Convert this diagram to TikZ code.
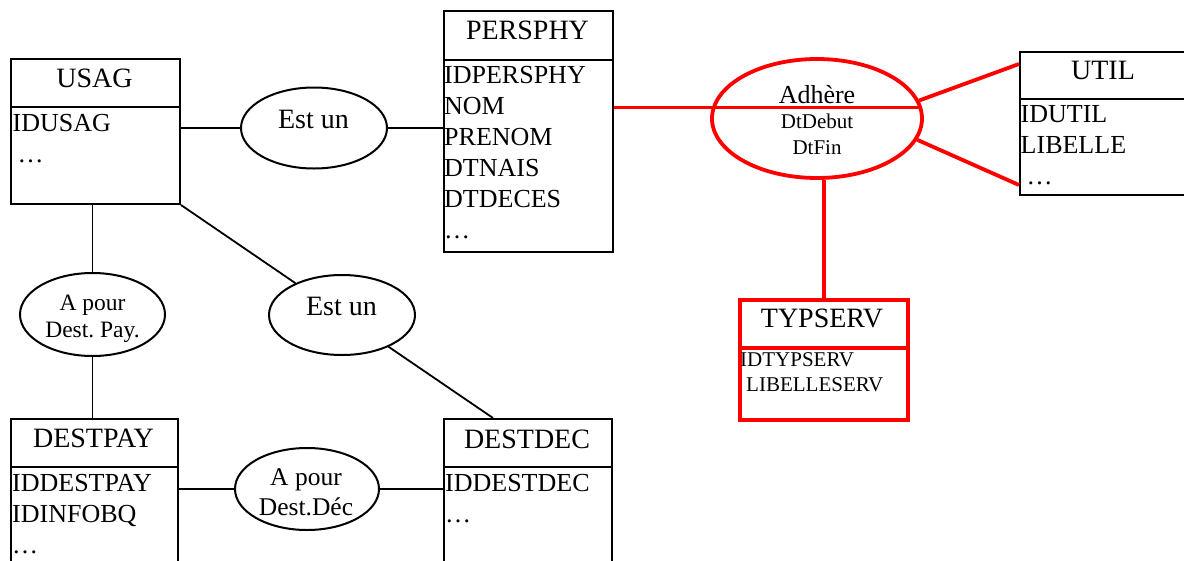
\documentclass[tikz,border=0pt]{standalone}
\usepackage{fontspec}
\setmainfont{Liberation Serif}
\usetikzlibrary{shapes.geometric}
\frenchspacing
\begin{document}
\begin{tikzpicture}[x=1pt,y=-1pt,
  ent/.style={draw, line width=2pt, inner sep=0pt, anchor=north west, minimum width=168pt},
  redent/.style={ent, draw=red, line width=3.8pt},
  rel/.style={draw, ellipse, line width=2pt, inner sep=0pt},
  redrel/.style={rel, draw=red, line width=3.8pt},
  conn/.style={line width=1.8pt},
  redconn/.style={draw=red, line width=3.8pt},
  ttl/.style={font=\fontsize{28}{33}\selectfont, anchor=base, inner sep=0pt},
  attrs/.style={font=\fontsize{26}{31}\selectfont, anchor=north west, align=left, inner sep=0pt},
  smattrs/.style={font=\fontsize{21}{25}\selectfont, anchor=north west, align=left, inner sep=0pt},
  rtxt/.style={anchor=base, inner sep=0pt}
]
\useasboundingbox (0,0) rectangle (1184,560);

% ---------- entities ----------
% USAG
\node[ent, minimum width=169pt, minimum height=48pt] (usag) at (10,58) {};
\node[ent, minimum width=169pt, minimum height=97pt] (usagb) at (10,106) {};
\node[ttl] (usagt) at (94.5,87) {USAG};
\node[attrs] (usaga) at (12.5,114.4) {IDUSAG\\\hspace*{5pt}…};

% PERSPHY
\node[ent, minimum width=169pt, minimum height=49pt] (persphy) at (443,10) {};
\node[ent, minimum width=169pt, minimum height=192pt] (persphyb) at (443,59) {};
\node[ttl] (persphyt) at (527.5,39) {PERSPHY};
\node[attrs] (persphya) at (444,66.4) {IDPERSPHY\\NOM\\PRENOM\\DTNAIS\\DTDECES\\…};

% UTIL
\node[ent, minimum width=168pt, minimum height=47pt] (util) at (1019,51) {};
\node[ent, minimum width=168pt, minimum height=96pt] (utilb) at (1019,98) {};
\node[ttl] (utilt) at (1103,79) {UTIL};
\node[attrs] (utila) at (1020.5,105.4) {IDUTIL\\LIBELLE\\\hspace*{6pt}…};

% TYPSERV
\node[redent, minimum height=48pt] (typserv) at (738,298) {};
\node[redent, minimum height=72pt] (typservb) at (738,346) {};
\node[ttl] (typservt) at (822,327) {TYPSERV};
\node[smattrs] (typserva) at (740,352.8) {IDTYPSERV\\\hspace*{6pt}LIBELLESERV};

% DESTPAY
\node[ent, minimum width=167pt, minimum height=48pt] (destpay) at (10,418) {};
\node[ent, minimum width=167pt, minimum height=120pt] (destpayb) at (10,466) {};
\node[ttl] (destpayt) at (93.5,447) {DESTPAY};
\node[attrs] (destpaya) at (12,474.4) {IDDESTPAY\\IDINFOBQ\\…};

% DESTDEC
\node[ent, minimum width=168pt, minimum height=48pt] (destdec) at (443,418) {};
\node[ent, minimum width=168pt, minimum height=120pt] (destdecb) at (443,466) {};
\node[ttl] (destdect) at (527,448) {DESTDEC};
\node[attrs] (destdeca) at (445,474.4) {IDDESTDEC\\…};

% ---------- relations ----------
\node[rel, minimum width=146pt, minimum height=81pt] (estun1) at (314,128) {};
\node[rtxt, font=\fontsize{28}{33}\selectfont] (estun1t) at (313.5,128) {Est un};

\node[rel, minimum width=146pt, minimum height=80pt] (estun2) at (342,315) {};
\node[rtxt, font=\fontsize{28}{33}\selectfont] (estun2t) at (341.5,315) {Est un};

\node[rel, minimum width=145pt, minimum height=83pt] (apdp) at (92.5,314.5) {};
\node[rtxt, font=\fontsize{23.5}{28}\selectfont] (apdp1) at (92.5,310) {A pour};
\node[rtxt, font=\fontsize{23.5}{28}\selectfont] (apdp2) at (92.5,337) {Dest. Pay.};

\node[rel, minimum width=144pt, minimum height=82pt] (apdd) at (307,489) {};
\node[rtxt, font=\fontsize{25.5}{30}\selectfont] (apdd1) at (306,485) {A pour};
\node[rtxt, font=\fontsize{25.5}{30}\selectfont] (apdd2) at (306,515) {Dest.Déc};

\node[redrel, minimum width=210pt, minimum height=119pt] (adhere) at (817,118.5) {};
\node[rtxt, font=\fontsize{26}{30}\selectfont] (adheret) at (817,103) {Adhère};
\node[rtxt, font=\fontsize{21}{25}\selectfont] (adhere1) at (817,128) {DtDebut};
\node[rtxt, font=\fontsize{21}{25}\selectfont] (adhere2) at (817,154) {DtFin};

% ---------- connectors ----------
\coordinate (dd) at (493,418);
\coordinate (u1) at (1019,64);
\coordinate (u2) at (1019,185);

\draw[conn] (estun1.west) -- (estun1.west -| usagb.east);
\draw[conn] (estun1.east) -- (estun1.east -| persphyb.west);
\draw[conn] (apdp.north) -- (apdp.north |- usagb.south);
\draw[conn] (apdp.south) -- (apdp.south |- destpay.north);
\draw[conn] (usagb.south east) -- (estun2);
\draw[conn] (estun2) -- (dd);
\draw[conn] (apdd.west) -- (apdd.west -| destpayb.east);
\draw[conn] (apdd.east) -- (apdd.east -| destdecb.west);

\draw[redconn] (adhere.6) -- (adhere.6 -| persphyb.east);
\draw[redconn] (adhere.10) -- (u1);
\draw[redconn] (adhere.-12) -- (u2);
\draw[redconn] (typserv.north) -- (typserv.north |- adhere.south);
\end{tikzpicture}
\end{document}
